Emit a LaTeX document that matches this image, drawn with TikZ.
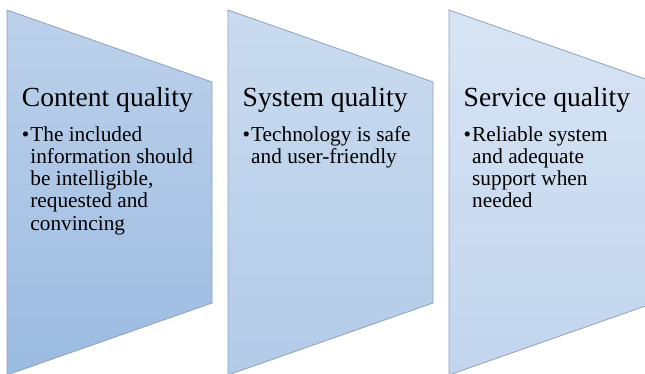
\documentclass[tikz,border=0pt]{standalone}
\usepackage{fontspec}
\setmainfont{Liberation Serif}

\definecolor{edgegray}{HTML}{8FA2BA}
\definecolor{qtopA}{HTML}{BDD1EA}
\definecolor{qbotA}{HTML}{9BBBE2}
\definecolor{qtopB}{HTML}{CADBEF}
\definecolor{qbotB}{HTML}{B2CBE8}
\definecolor{qtopC}{HTML}{D7E4F3}
\definecolor{qbotC}{HTML}{C2D5EE}

\newcommand\qitem[1]{\makebox[8.5pt][l]{\textbullet}%
        \parbox[t]{166pt}{\raggedright\hyphenpenalty=10000 #1}}

\begin{document}
\begin{tikzpicture}[x=1pt,y=1pt,
        panel/.style={draw=edgegray,line width=0.8pt},
        head/.style={anchor=base west,inner sep=0pt,font=\fontsize{27.6}{30}\selectfont},
        body/.style={anchor=base west,inner sep=0pt,font=\fontsize{21.3}{22.3}\selectfont}]
        \useasboundingbox (0,0) rectangle (645,373);
        \clip (0,0) rectangle (645,373);

        \foreach \n/\dx in {A/0,B/221,C/442} {
                \draw[panel,top color=qtop\n,bottom color=qbot\n]
                        (7+\dx,363) -- (212+\dx,291) -- (212+\dx,70) -- (7+\dx,-2) -- cycle;
        }

        \node [head] (content) at (21.7,267) {Content quality};
        \node [body] (contentitem) at (21.7,232) {\qitem{The included information should be intelligible, requested and convincing}};

        \node [head] (system) at (242.5,267) {System quality};
        \node [body] (systemitem) at (242.5,232) {\qitem{Technology is safe and user-friendly}};

        \node [head] (service) at (463.5,267) {Service quality};
        \node [body] (serviceitem) at (463.5,232) {\qitem{Reliable system and adequate support when needed}};
      \end{tikzpicture}
\end{document}
